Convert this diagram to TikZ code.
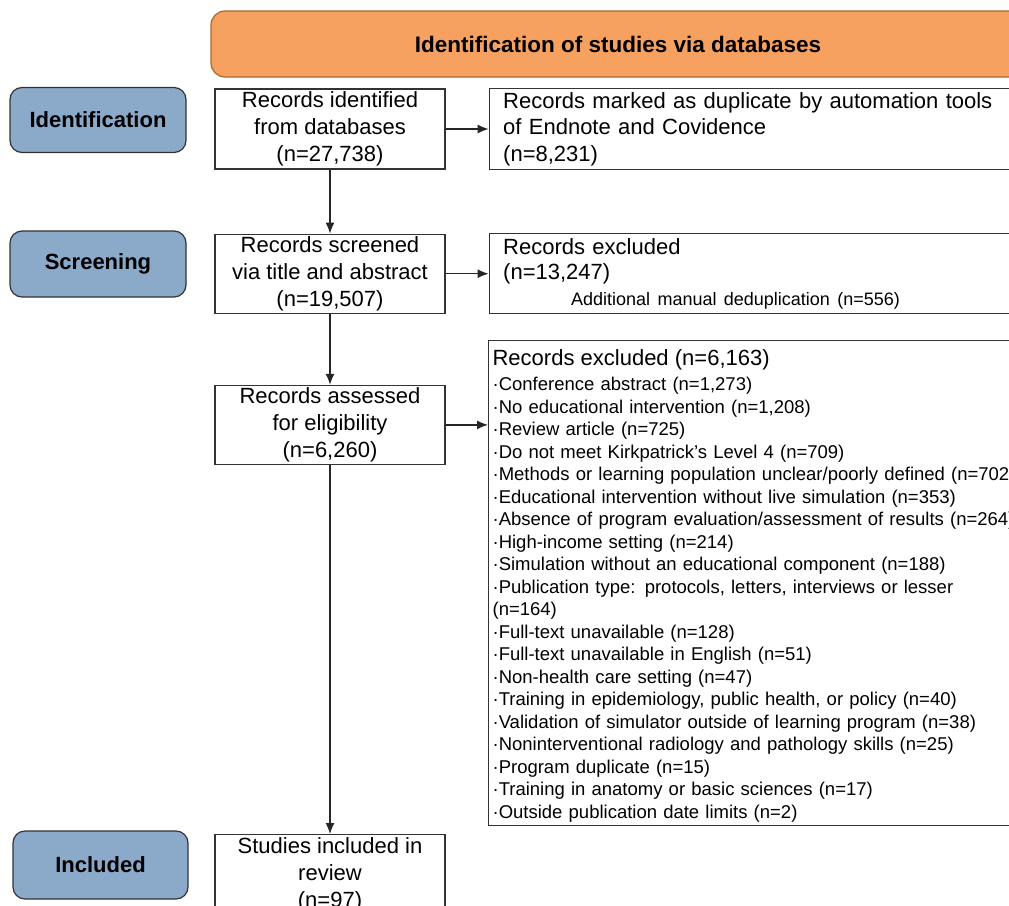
\documentclass[tikz,border=0pt]{standalone}
\usepackage{fontspec}
\setmainfont{Liberation Sans}
\usepackage{xcolor}
\usetikzlibrary{positioning,arrows.meta}

\definecolor{headorange}{HTML}{F6A160}
\definecolor{headedge}{HTML}{A9692C}
\definecolor{stageblue}{HTML}{8BA9C9}

\tikzset{
  stage/.style={draw=black!80, line width=1.2pt, fill=stageblue, rounded corners=12pt,
    minimum width=176pt, minimum height=65pt, font=\fontsize{22}{26}\selectfont\bfseries},
  header/.style={draw=headedge, line width=1.2pt, fill=headorange, rounded corners=14pt,
    minimum width=814pt, minimum height=66pt, font=\fontsize{22.5}{26}\selectfont\bfseries},
  flowbox/.style={draw=black!80, line width=1.2pt, fill=white, minimum width=230pt,
    minimum height=80pt, inner sep=0pt, align=center, font=\fontsize{22}{27}\selectfont},
  sidebox/.style={draw=black!80, line width=1.2pt, fill=white, minimum width=560pt,
    text width=532pt, inner xsep=14pt, inner ysep=0pt, align=left,
    font=\fontsize{22}{26.5}\selectfont},
  flow/.style={-{Latex[length=11pt,width=9pt]}, line width=1.2pt, black!85},
}

\begin{document}
\begin{tikzpicture}[x=1pt,y=-1pt]

    \useasboundingbox (0,0) rectangle (1009,905);
    \clip (0,0) rectangle (1009,905);
    \fill[white] (0,0) rectangle (1009,905);

    % header
    \node[header] (head) at (618,44) {Identification of studies via databases};

    % stage labels
    \node[stage] (ident) at (98,120) {Identification};
    \node[stage, minimum height=66pt] (screen) at (98,264) {Screening};
    \node[stage, minimum width=175pt, minimum height=68pt] (incl) at (100.5,865) {Included};

    % main flow nodes
    \node[flowbox] (recid) at (330,129) {Records identified\\from databases\\(n=27,738)};
    \node[flowbox, below=64pt of recid, minimum height=79pt] (screened) {Records screened\\via title and abstract\\(n=19,507)};
    \node[flowbox, below=71pt of screened, minimum height=79pt] (assess) {Records assessed\\for eligibility\\(n=6,260)};
    \node[flowbox, below=369pt of assess] (studies) {Studies included in\\review\\(n=97)};

    % exclusion nodes
    \node[sidebox, minimum height=81pt, right=43pt of recid] (dup)
      {Records marked as duplicate by automation tools\\of Endnote and Covidence\\(n=8,231)};
    \node[sidebox, minimum height=80pt, right=43pt of screened] (excl1)
      {Records excluded\\[-1pt](n=13,247)\\[-1pt]{\fontsize{18}{22}\selectfont\hspace*{68pt}Additional manual deduplication (n=556)}};
    \node[sidebox, anchor=north west, inner xsep=4pt, text width=552pt, minimum height=485pt,
      font=\fontsize{18.5}{22.5}\selectfont] (excl2) at (488,340)
      {{\fontsize{22}{25}\selectfont\rule{0pt}{22pt}Records excluded (n=6,163)}\\[2.5pt]
       ·Conference abstract (n=1,273)\\
       ·No educational intervention (n=1,208)\\
       ·Review article (n=725)\\
       ·Do not meet Kirkpatrick’s Level 4 (n=709)\\
       ·Methods or learning population unclear/poorly defined (n=702)\\
       ·Educational intervention without live simulation (n=353)\\
       ·Absence of program evaluation/assessment of results (n=264)\\
       ·High-income setting (n=214)\\
       ·Simulation without an educational component (n=188)\\
       ·Publication type: protocols, letters, interviews or lesser\\
       (n=164)\\
       ·Full-text unavailable (n=128)\\
       ·Full-text unavailable in English (n=51)\\
       ·Non-health care setting (n=47)\\
       ·Training in epidemiology, public health, or policy (n=40)\\
       ·Validation of simulator outside of learning program (n=38)\\
       ·Noninterventional radiology and pathology skills (n=25)\\
       ·Program duplicate (n=15)\\
       ·Training in anatomy or basic sciences (n=17)\\
       ·Outside publication date limits (n=2)};

    % the connections
    \draw[flow] (recid.east) -- (recid.east -| dup.west);
    \draw[flow] (recid) -- (screened);
    \draw[flow] (screened.east) -- (screened.east -| excl1.west);
    \draw[flow] (screened) -- (assess);
    \draw[flow] (assess.east) -- (assess.east -| excl2.west);
    \draw[flow] (assess) -- (studies);

\end{tikzpicture}
\end{document}
